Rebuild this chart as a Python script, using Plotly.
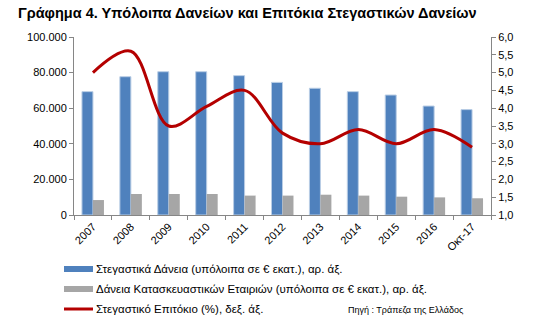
import plotly.graph_objects as go

# Categories and series (balances in € million, rate in %)
years = ["2007", "2008", "2009", "2010", "2011", "2012", "2013", "2014", "2015", "2016", "Οκτ-17"]
housing_loans = [69300, 77700, 80500, 80500, 78300, 74500, 71200, 69300, 67400, 61200, 59200]
construction_loans = [8400, 11800, 11800, 11800, 10900, 10900, 11400, 10900, 10300, 9900, 9400]
housing_rate = [5.0, 5.6, 3.5, 4.05, 4.5, 3.3, 3.0, 3.4, 3.0, 3.4, 2.9]

legend_labels = [
    "Στεγαστικά Δάνεια (υπόλοιπα σε € εκατ.), αρ. άξ.",
    "Δάνεια Κατασκευαστικών Εταιριών (υπόλοιπα σε € εκατ.), αρ. άξ.",
    "Στεγαστικό Επιτόκιο (%), δεξ. άξ.",
]

BLUE = "#4F81BD"
GREY = "#A6A6A6"
RED = "#B40000"
AXIS = "#868686"
FONT = "Liberation Sans, Arial, sans-serif"

fig = go.Figure()
fig.add_trace(go.Bar(x=years, y=housing_loans, name=legend_labels[0],
                     marker=dict(color=BLUE, line=dict(color="#B9CDE5", width=1))))
fig.add_trace(go.Bar(x=years, y=construction_loans, name=legend_labels[1],
                     marker=dict(color=GREY, line=dict(width=0))))
fig.add_trace(go.Scatter(x=years, y=housing_rate, name=legend_labels[2], yaxis="y2",
                         mode="lines", line=dict(color=RED, width=3, shape="spline", smoothing=1.0)))

W, H = 548, 336
L, R, T, B = 74, 57, 37, 121

fig.update_layout(
    width=W, height=H,
    margin=dict(l=L, r=R, t=T, b=B),
    paper_bgcolor="white", plot_bgcolor="white",
    separators=",.",
    showlegend=False,
    barmode="group", bargap=0.42, bargroupgap=0,
    font=dict(family=FONT, size=11, color="#000000"),
    xaxis=dict(type="category", tickangle=-45, showline=True, linecolor=AXIS, linewidth=1,
               ticks="outside", ticklen=4, tickcolor=AXIS, tickson="boundaries",
               tickfont=dict(size=11), showgrid=False),
    yaxis=dict(range=[0, 100000], dtick=20000, tickformat=",.0f", showline=True,
               linecolor=AXIS, linewidth=1, ticks="outside", ticklen=4, tickcolor=AXIS,
               showgrid=False, zeroline=False, tickfont=dict(size=11)),
    yaxis2=dict(range=[1, 6], dtick=0.5, tickformat=".1f", overlaying="y", side="right",
                showline=True, linecolor=AXIS, linewidth=1, ticks="outside", ticklen=4,
                tickcolor=AXIS, showgrid=False, zeroline=False, tickfont=dict(size=11)),
)

# Title
fig.add_annotation(text="<b>Γράφημα 4. Υπόλοιπα Δανείων και Επιτόκια Στεγαστικών Δανείων</b>",
                   xref="paper", yref="paper", x=(16 - L) / (W - L - R), y=1 + (T - 13) / (H - T - B),
                   xanchor="left", yanchor="middle", showarrow=False,
                   font=dict(family=FONT, size=14.5, color="#000000"))

# Custom legend below the plot
def px_x(px):
    return (px - L) / (W - L - R)

def px_y(py):
    return (H - B - py) / (H - T - B)

rows_y = [269, 289, 309]
for i, label in enumerate(legend_labels):
    yc = rows_y[i]
    if i < 2:
        fig.add_shape(type="rect", xref="paper", yref="paper",
                      x0=px_x(64), x1=px_x(93), y0=px_y(yc + 3), y1=px_y(yc - 3),
                      fillcolor=[BLUE, GREY][i], line=dict(width=0))
    else:
        fig.add_shape(type="line", xref="paper", yref="paper",
                      x0=px_x(64), x1=px_x(93), y0=px_y(yc), y1=px_y(yc),
                      line=dict(color=RED, width=3))
    fig.add_annotation(text=label, xref="paper", yref="paper", x=px_x(94), y=px_y(yc),
                       xanchor="left", yanchor="middle", showarrow=False,
                       font=dict(family=FONT, size=11.5, color="#000000"))

fig.add_annotation(text="Πηγή : Τράπεζα της Ελλάδος", xref="paper", yref="paper",
                   x=px_x(346), y=px_y(310), xanchor="left", yanchor="middle", showarrow=False,
                   font=dict(family=FONT, size=9, color="#000000"))

fig.write_html("out.html")
